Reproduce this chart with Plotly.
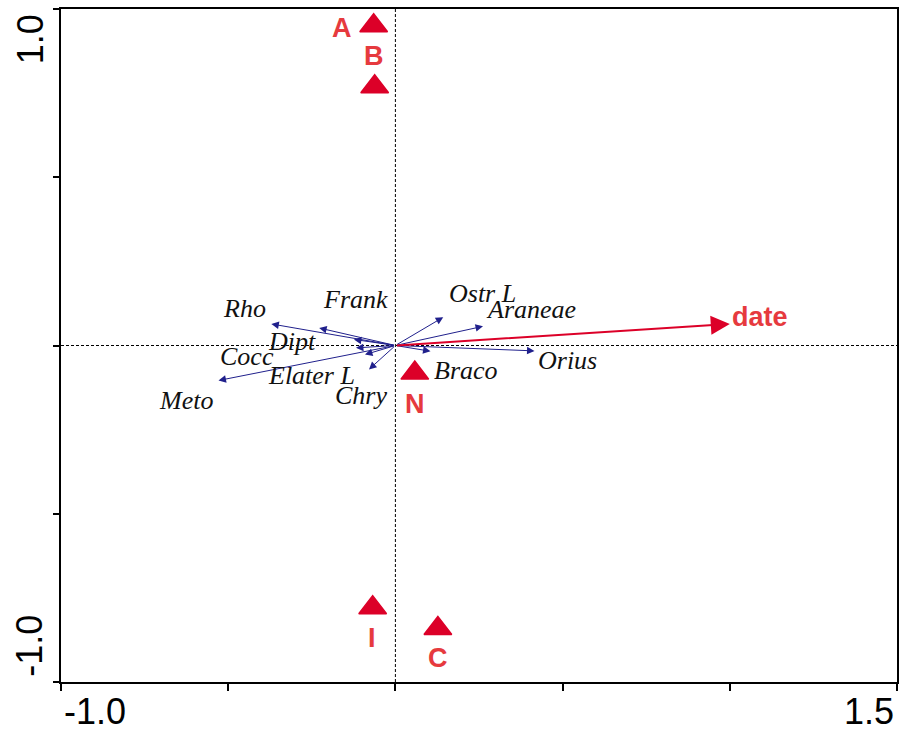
import plotly.graph_objects as go

# Species vectors (axis 1, axis 2) and where their names sit
species = ["Rho", "Frank", "Dipt", "Cocc", "Elater L", "Chry", "Meto",
           "Ostr L", "Araneae", "Orius", "Braco"]
sp_x = [-0.371, -0.228, -0.124, -0.118, -0.091, -0.079, -0.529,
        0.143, 0.262, 0.416, 0.105]
sp_y = [0.064, 0.052, 0.018, -0.007, -0.027, -0.071, -0.104,
        0.084, 0.057, -0.016, -0.017]
sp_label_x = [-0.451, -0.118, -0.308, -0.443, -0.252, -0.103, -0.625,
              0.261, 0.405, 0.515, 0.211]
sp_label_y = [0.111, 0.138, 0.013, -0.034, -0.088, -0.150, -0.162,
              0.156, 0.108, -0.046, -0.073]

# Environmental variable
env_name = "date"
env_x = 1.000
env_y = 0.064

# Sample scores (triangles) and their labels
sample_x = [-0.065, -0.062, 0.058, -0.068, 0.127]
sample_y = [0.950, 0.769, -0.082, -0.779, -0.841]
sample_labels = ["A", "B", "N", "I", "C"]
sample_label_x = [-0.159, -0.064, 0.059, -0.070, 0.127]
sample_label_y = [0.945, 0.859, -0.174, -0.868, -0.930]

# Axis extents and tick positions
x_range = [-1.0, 1.5]
y_range = [-1.0, 1.0]
x_ticks = [-1.0, -0.5, 0.0, 0.5, 1.0, 1.5]
y_ticks = [-1.0, -0.5, 0.0, 0.5, 1.0]

RED_MARK = "#dc0028"
RED_TEXT = "#e63a3e"
BLUE = "#20208c"

fig = go.Figure()

fig.add_trace(go.Scatter(
    x=sample_x, y=sample_y, mode="markers",
    marker=dict(symbol="triangle-up", size=24, color=RED_MARK,
                line=dict(width=1.5, color=RED_MARK)),
    hoverinfo="skip", showlegend=False,
))

annotations = []

# Species arrows from the origin
for name, x, y in zip(species, sp_x, sp_y):
    annotations.append(dict(
        x=x, y=y, ax=0, ay=0, xref="x", yref="y", axref="x", ayref="y",
        text="", showarrow=True, arrowhead=2, arrowsize=1.5, arrowwidth=1,
        arrowcolor=BLUE, standoff=0, startstandoff=0,
    ))

# Environmental arrow
annotations.append(dict(
    x=env_x, y=env_y, ax=0, ay=0, xref="x", yref="y", axref="x", ayref="y",
    text="", showarrow=True, arrowhead=2, arrowsize=1.9, arrowwidth=2,
    arrowcolor=RED_MARK, standoff=0,
))
annotations.append(dict(
    x=env_x, y=env_y + 0.021, xref="x", yref="y",
    text="<b>%s</b>" % env_name,
    showarrow=False, xanchor="left", yanchor="middle",
    font=dict(family="Liberation Sans, Arial", size=27, color=RED_TEXT),
))

# Species names
for name, lx, ly in zip(species, sp_label_x, sp_label_y):
    annotations.append(dict(
        x=lx, y=ly, xref="x", yref="y", text="<i>%s</i>" % name,
        showarrow=False, xanchor="center", yanchor="middle",
        font=dict(family="Liberation Serif, Times New Roman", size=26,
                  color="#111111"),
    ))

# Sample labels
for lab, lx, ly in zip(sample_labels, sample_label_x, sample_label_y):
    annotations.append(dict(
        x=lx, y=ly, xref="x", yref="y", text="<b>%s</b>" % lab,
        showarrow=False, xanchor="center", yanchor="middle",
        font=dict(family="Liberation Sans, Arial", size=27, color=RED_TEXT),
    ))

# End tick labels
tick_font = dict(family="Liberation Sans, Arial", size=36, color="black")
annotations.append(dict(x=x_range[0], y=0, xref="x", yref="paper",
                        text="-1.0", showarrow=False, xanchor="left",
                        yanchor="middle", yshift=-29, xshift=1,
                        font=tick_font))
annotations.append(dict(x=x_range[1], y=0, xref="x", yref="paper",
                        text="1.5", showarrow=False, xanchor="right",
                        yanchor="middle", yshift=-29, xshift=-1,
                        font=tick_font))
annotations.append(dict(x=0, y=0.91, xref="paper", yref="y", text="1.0",
                        showarrow=False, xanchor="center", yanchor="middle",
                        xshift=-31, textangle=-90, font=tick_font))
annotations.append(dict(x=0, y=-0.892, xref="paper", yref="y", text="-1.0",
                        showarrow=False, xanchor="center", yanchor="middle",
                        xshift=-31, textangle=-90, font=tick_font))

# Dashed zero lines
shapes = [
    dict(type="line", xref="x", yref="y", x0=0, x1=0, y0=y_range[0],
         y1=y_range[1], line=dict(color="black", width=1, dash="3px,2px"),
         layer="below"),
    dict(type="line", xref="x", yref="y", x0=x_range[0], x1=x_range[1],
         y0=0, y1=0, line=dict(color="black", width=1, dash="3px,2px"),
         layer="below"),
]

axis_common = dict(showgrid=False, zeroline=False, showline=True,
                   mirror=True, linecolor="black", linewidth=2,
                   ticks="outside", tickcolor="black", tickwidth=1.5,
                   showticklabels=False, fixedrange=True)

fig.update_layout(
    width=902, height=731,
    margin=dict(l=61, r=3, t=9, b=49),
    paper_bgcolor="white", plot_bgcolor="white",
    xaxis=dict(range=x_range, tickvals=x_ticks, ticklen=7, **axis_common),
    yaxis=dict(range=y_range, tickvals=y_ticks, ticklen=6, **axis_common),
    annotations=annotations, shapes=shapes, showlegend=False,
)

fig.write_html("out.html")
